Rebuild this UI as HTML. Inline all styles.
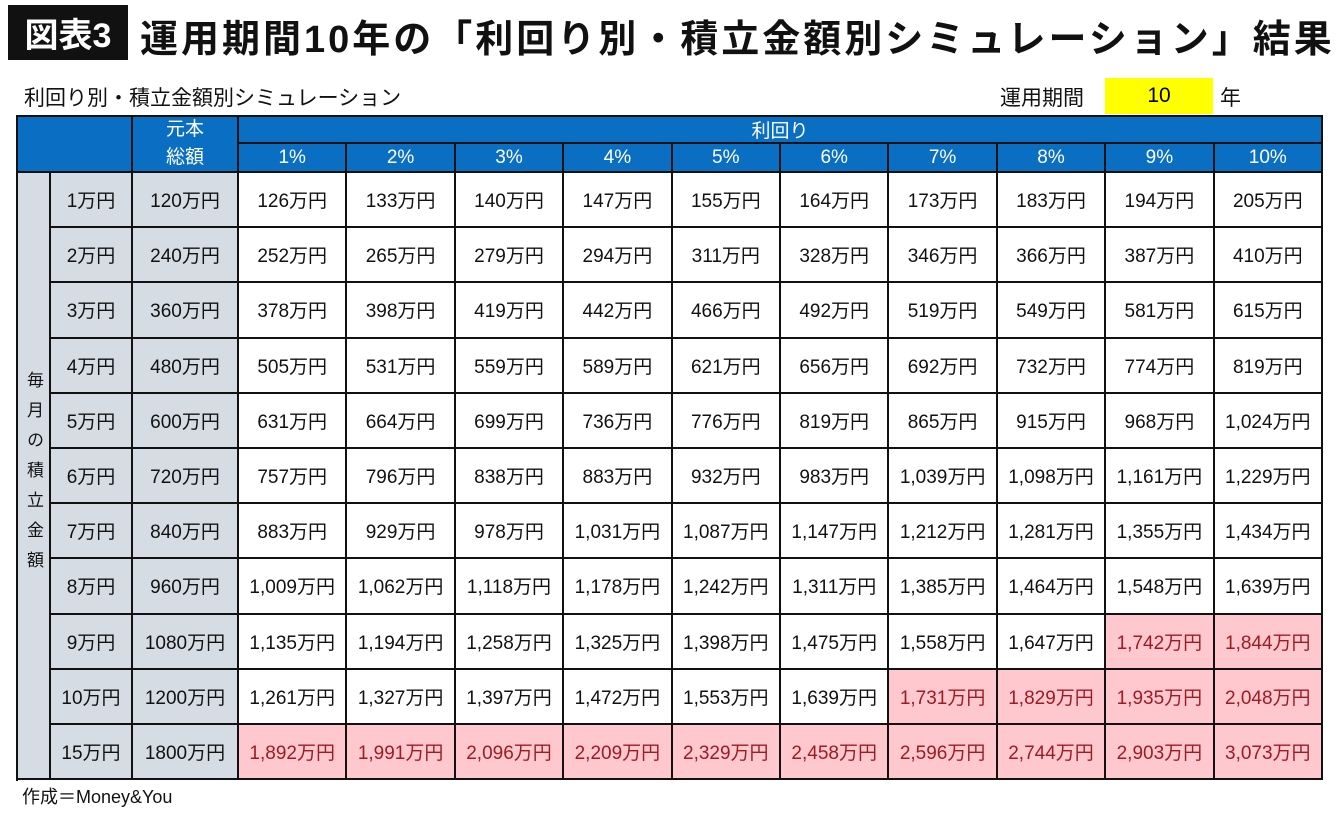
<!DOCTYPE html>
<html><head><meta charset="utf-8"><style>
body{margin:0;width:1340px;height:816px;background:#fff;font-family:"Liberation Sans","Noto Sans CJK JP",sans-serif;position:relative;overflow:hidden}
.a{position:absolute;box-sizing:border-box}
.c{display:flex;align-items:center;justify-content:center;font-size:19px;color:#111;border-right:2px solid #111;border-bottom:2px solid #111}
.h{background:#0a6fc2;color:#fff}
.g{background:#d6dce4}
.p{background:#ffc7ce;color:#9c1c22}
</style></head><body>
<div class="a" style="left:8px;top:5px;width:120px;height:55px;background:#111;color:#fff;font-size:34px;font-weight:bold;display:flex;align-items:center;justify-content:center">図表3</div>
<div class="a" style="left:140px;top:8px;font-size:38px;letter-spacing:3px;font-weight:bold;color:#111;white-space:nowrap">運用期間10年の「利回り別・積立金額別シミュレーション」結果</div>
<div class="a" style="left:24px;top:82px;font-size:21px;color:#111">利回り別・積立金額別シミュレーション</div>
<div class="a" style="left:1000px;top:82px;font-size:21px;color:#111">運用期間</div>
<div class="a" style="left:1105px;top:78px;width:108px;height:36px;background:#ffff00;font-size:21px;display:flex;align-items:center;justify-content:center">10</div>
<div class="a" style="left:1220px;top:82px;font-size:21px;color:#111">年</div>
<div id="tbl" class="a" style="left:16px;top:115px;width:1307px;height:666px;border-left:2px solid #111;border-top:2px solid #111"></div>
<div class="a" style="left:22px;top:783px;font-size:18px;color:#111">作成＝Money&amp;You</div>
<script>
const rates=["1%","2%","3%","4%","5%","6%","7%","8%","9%","10%"];
const monthly=["1万円","2万円","3万円","4万円","5万円","6万円","7万円","8万円","9万円","10万円","15万円"];
const principal=["120万円","240万円","360万円","480万円","600万円","720万円","840万円","960万円","1080万円","1200万円","1800万円"];
const values=[
[126,133,140,147,155,164,173,183,194,205],
[252,265,279,294,311,328,346,366,387,410],
[378,398,419,442,466,492,519,549,581,615],
[505,531,559,589,621,656,692,732,774,819],
[631,664,699,736,776,819,865,915,968,1024],
[757,796,838,883,932,983,1039,1098,1161,1229],
[883,929,978,1031,1087,1147,1212,1281,1355,1434],
[1009,1062,1118,1178,1242,1311,1385,1464,1548,1639],
[1135,1194,1258,1325,1398,1475,1558,1647,1742,1844],
[1261,1327,1397,1472,1553,1639,1731,1829,1935,2048],
[1892,1991,2096,2209,2329,2458,2596,2744,2903,3073]];
const highlightMin=1700;
const T=document.getElementById('tbl');
const X0=16,Y0=115;
const cw=(1323-239)/10;
function cx(i){return 239+i*cw;}
function mk(x,y,w,h,cls,txt,name){const d=document.createElement('div');d.className='a c '+cls;d.style.left=(x-X0-2)+'px';d.style.top=(y-Y0-2)+'px';d.style.width=w+'px';d.style.height=h+'px';d.innerHTML=txt;


T.appendChild(d);return d;}
mk(18,117,115,56,'h','','header-corner');
mk(133,117,106,56,'h','<div style="text-align:center;line-height:28px">元本<br>総額</div>','header-principal');
mk(239,117,1084,27,'h','利回り','header-yield');
rates.forEach((r,i)=>mk(cx(i),144,cw,29,'h',r,'header-rate'));
const rh=55.2,ry=173;
mk(18,ry,33,rh*11,'g','<div style="writing-mode:vertical-rl;text-orientation:upright;font-size:17px;letter-spacing:13px">毎月の積立金額</div>','row-group-label');
monthly.forEach((m,j)=>{
 const y=ry+j*rh;
 mk(51,y,82,rh,'g',m,'monthly-amount');
 mk(133,y,106,rh,'g',principal[j],'principal-total');
 values[j].forEach((v,i)=>{
  mk(cx(i),y,cw,rh,v>=highlightMin?'p':'',v.toLocaleString('en-US')+'万円','result-cell');
 });
});
</script>
</body></html>
